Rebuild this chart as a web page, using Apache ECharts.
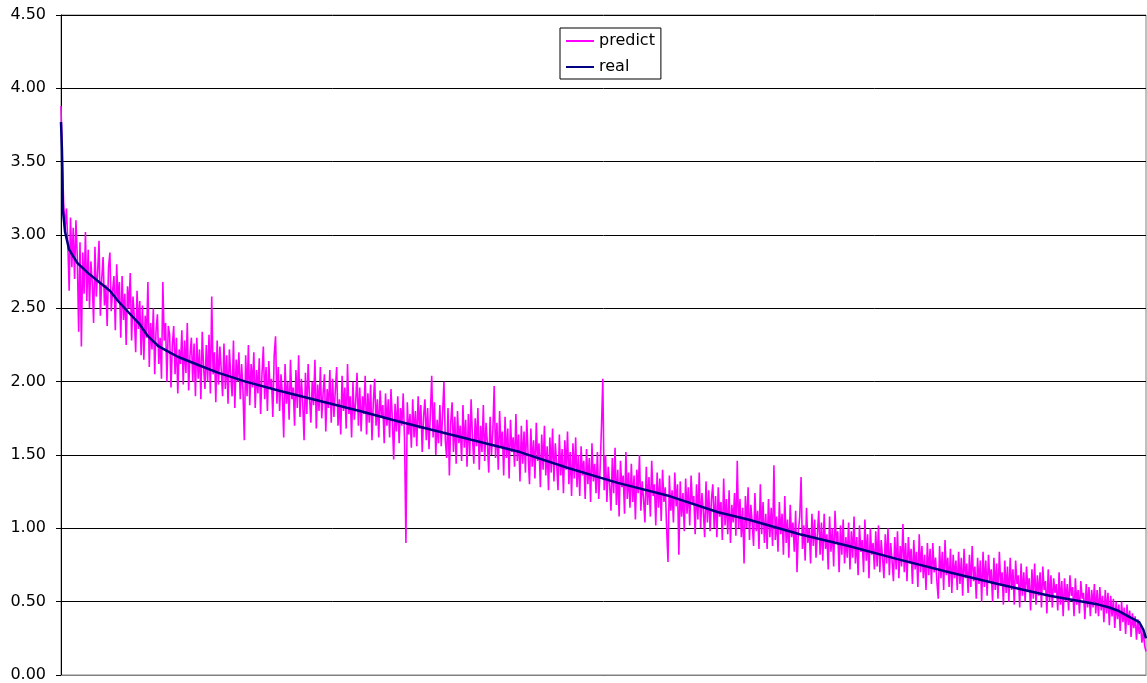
<!DOCTYPE html>
<html><head><meta charset="utf-8">
<script src="https://cdn.jsdelivr.net/npm/echarts@6/dist/echarts.min.js"></script>
<style>html,body{margin:0;padding:0;background:#fff}#c{width:1147px;height:683px}</style>
</head><body><div id="c"></div>
<script>
const yTicks = [0, 0.5, 1, 1.5, 2, 2.5, 3, 3.5, 4, 4.5];
const predict = [
3.88,3.52,3.20,3.05,3.18,2.95,2.62,3.12,2.78,3.05,2.70,3.10,2.85,2.34,2.95,2.24,2.88,2.60,3.02,2.55,
2.90,2.50,2.82,2.68,2.40,2.92,2.58,2.75,2.96,2.45,2.70,2.85,2.52,2.66,2.38,2.78,2.88,2.48,2.62,2.72,
2.35,2.80,2.55,2.68,2.30,2.72,2.42,2.60,2.25,2.65,2.50,2.74,2.28,2.58,2.44,2.20,2.62,2.36,2.55,2.18,
2.52,2.15,2.45,2.30,2.68,2.10,2.40,2.22,2.50,2.05,2.35,2.46,2.12,2.30,2.02,2.68,2.28,2.40,2.00,2.38,
2.32,1.96,2.25,2.38,2.05,2.30,1.92,2.22,2.12,2.35,1.98,2.28,2.06,2.40,1.94,2.18,2.30,2.00,2.26,1.90,
2.30,2.02,2.22,1.88,2.34,2.10,1.95,2.25,2.00,2.32,1.92,2.58,2.05,2.20,1.86,2.28,1.98,2.24,2.08,1.90,
2.26,1.95,2.18,1.85,2.22,2.04,1.90,2.28,1.82,2.15,2.00,2.20,1.88,2.12,1.94,1.60,2.18,1.90,2.25,1.84,
2.12,1.96,2.20,1.82,2.08,1.92,2.16,1.78,2.05,2.24,1.88,2.10,1.80,2.14,1.95,2.02,1.76,2.18,2.31,1.85,
2.10,1.80,2.05,1.92,1.62,2.12,1.85,2.00,1.74,2.15,1.88,1.96,1.70,2.08,1.82,2.18,1.76,2.02,1.86,1.60,
2.06,1.78,2.12,1.90,1.72,2.00,1.84,2.15,1.68,1.98,1.80,2.10,1.75,1.92,2.05,1.66,1.95,1.82,2.08,1.72,
2.02,1.76,1.94,2.10,1.70,1.88,1.64,2.04,1.80,1.96,1.68,2.12,1.78,1.90,1.62,2.00,1.74,1.86,2.06,1.70,
1.96,1.66,1.90,1.78,2.04,1.64,1.92,1.72,1.98,1.60,1.86,2.02,1.70,1.88,1.62,1.94,1.76,1.84,1.58,1.92,
1.70,1.88,1.62,1.95,1.74,1.47,1.85,1.66,1.90,1.58,1.82,1.70,1.92,1.60,0.90,1.86,1.64,1.78,1.55,1.88,
1.62,1.80,1.56,1.90,1.68,1.84,1.52,1.76,1.88,1.60,1.82,1.54,1.78,2.04,1.62,1.86,1.50,1.74,1.58,1.84,
1.56,1.78,2.00,1.60,1.48,1.82,1.36,1.72,1.86,1.52,1.76,1.44,1.80,1.58,1.70,1.46,1.84,1.55,1.74,1.42,
1.78,1.50,1.88,1.62,1.44,1.75,1.56,1.82,1.40,1.70,1.52,1.84,1.46,1.72,1.58,1.38,1.76,1.50,1.66,1.97,
1.48,1.72,1.40,1.80,1.55,1.66,1.36,1.76,1.48,1.68,1.34,1.74,1.52,1.62,1.42,1.78,1.46,1.64,1.32,1.70,
1.44,1.66,1.38,1.74,1.50,1.30,1.68,1.42,1.60,1.34,1.72,1.46,1.58,1.28,1.64,1.40,1.70,1.36,1.56,1.26,
1.62,1.38,1.68,1.32,1.58,1.44,1.26,1.64,1.36,1.54,1.24,1.60,1.40,1.66,1.30,1.52,1.22,1.58,1.34,1.62,
1.28,1.50,1.22,1.56,1.36,1.46,1.20,1.54,1.30,1.48,1.18,1.58,1.32,1.44,1.24,1.52,1.20,1.40,1.69,2.02,
1.26,1.50,1.18,1.42,1.30,1.12,1.48,1.24,1.55,1.16,1.40,1.08,1.46,1.28,1.36,1.10,1.52,1.20,1.38,1.14,
1.44,1.18,1.36,1.06,1.40,1.24,1.50,1.12,1.32,1.20,1.04,1.42,1.16,1.35,1.08,1.46,1.22,1.30,1.02,1.38,
1.14,1.34,1.05,1.40,1.18,1.28,1.00,0.77,1.36,1.12,1.26,1.04,1.38,1.15,1.30,0.82,1.32,1.08,1.24,0.98,
1.34,1.10,1.28,1.02,1.36,1.16,1.22,0.96,1.30,1.06,1.38,1.00,1.24,1.12,0.94,1.32,1.04,1.26,0.98,1.20,
1.30,1.00,1.22,0.94,1.28,1.08,1.18,0.92,1.34,1.02,1.20,0.96,1.26,0.90,1.16,1.04,1.24,0.95,1.46,1.00,
1.20,0.94,1.14,0.76,1.22,1.00,1.28,0.92,1.16,1.04,0.88,1.24,0.98,1.12,0.86,1.30,0.96,1.18,0.90,1.10,
0.86,1.20,0.94,1.14,0.88,1.43,0.92,1.08,0.84,1.18,0.96,1.10,0.82,1.22,0.90,1.06,0.80,1.16,0.94,1.04,
0.84,1.12,0.70,0.98,1.08,1.35,0.86,1.02,0.78,1.14,0.90,1.00,0.76,1.10,0.88,1.06,0.80,0.96,1.12,0.82,
1.04,0.78,1.10,0.86,0.96,0.72,1.08,0.84,1.00,0.74,1.12,0.90,0.98,0.70,1.02,0.82,1.06,0.76,0.94,0.80,
1.04,0.72,0.98,0.80,1.08,0.76,0.94,0.68,1.02,0.84,0.92,0.70,1.06,0.78,0.96,0.66,1.00,0.82,0.90,0.72,
0.98,0.74,1.02,0.70,0.92,0.80,0.66,0.96,0.76,1.00,0.68,0.90,0.78,0.64,0.94,0.72,0.98,0.66,0.88,0.74,
1.03,0.70,0.90,0.64,0.94,0.76,0.86,0.62,0.92,0.72,0.84,0.60,0.96,0.70,0.88,0.66,0.82,0.58,0.90,0.68,
0.86,0.62,0.90,0.70,0.80,0.64,0.52,0.88,0.66,0.84,0.58,0.92,0.68,0.80,0.60,0.86,0.56,0.82,0.66,0.78,
0.58,0.84,0.62,0.80,0.54,0.86,0.66,0.76,0.56,0.82,0.60,0.88,0.64,0.74,0.52,0.80,0.62,0.78,0.50,0.84,
0.60,0.78,0.54,0.82,0.64,0.72,0.50,0.80,0.58,0.76,0.52,0.84,0.62,0.70,0.48,0.78,0.56,0.74,0.50,0.80,
0.58,0.72,0.48,0.78,0.62,0.68,0.46,0.76,0.54,0.70,0.50,0.74,0.58,0.66,0.44,0.72,0.52,0.76,0.48,0.68,
0.54,0.70,0.46,0.74,0.58,0.64,0.42,0.72,0.50,0.68,0.46,0.66,0.56,0.62,0.44,0.70,0.48,0.64,0.40,0.66,
0.50,0.62,0.44,0.68,0.54,0.60,0.40,0.66,0.48,0.58,0.42,0.64,0.52,0.56,0.38,0.62,0.46,0.60,0.40,0.58,
0.46,0.62,0.42,0.58,0.40,0.60,0.44,0.54,0.36,0.58,0.42,0.56,0.34,0.54,0.40,0.52,0.32,0.50,0.38,0.48,
0.30,0.50,0.36,0.46,0.28,0.48,0.34,0.44,0.26,0.42,0.32,0.40,0.24,0.38,0.28,0.34,0.22,0.30,0.20,0.16
];
const realIdx = [0,0.7,1.4,3,6,12,20,28,36,42,50,58,64,72,80,86,102,116,136,160,190,220,248,278,308,338,374,410,448,484,506,544,580,616,654,690,728,764,772,778,786,794,797,799];
const realVal = [3.77,3.58,3.17,3.02,2.90,2.81,2.74,2.68,2.62,2.55,2.47,2.39,2.31,2.24,2.20,2.17,2.11,2.06,2.00,1.94,1.87,1.80,1.73,1.66,1.59,1.52,1.41,1.31,1.22,1.11,1.06,0.96,0.88,0.79,0.70,0.62,0.54,0.48,0.46,0.44,0.40,0.36,0.31,0.25];

const font = '"DejaVu Sans", "Liberation Sans", Arial, sans-serif';
const chart = echarts.init(document.getElementById('c'), null, {renderer: 'canvas'});
chart.setOption({
  animation: false,
  backgroundColor: '#fff',
  grid: {left: 61, right: 1, top: 15, bottom: 7, show: true, borderColor: '#808080', borderWidth: 1},
  legend: {
    orient: 'vertical', left: 560, top: 28,
    backgroundColor: '#fff', borderColor: '#000', borderWidth: 1,
    padding: [3, 6, 2, 6], itemGap: 6, itemWidth: 28, itemHeight: 2, icon: 'rect',
    textStyle: {fontFamily: font, fontSize: 16, color: '#000', lineHeight: 20},
    data: ['predict', 'real']
  },
  xAxis: {
    type: 'value', min: 0, max: predict.length - 1,
    axisLine: {show: true, lineStyle: {color: '#808080', width: 1}},
    axisTick: {show: false}, axisLabel: {show: false}, splitLine: {show: false}
  },
  yAxis: {
    type: 'value', min: yTicks[0], max: yTicks[yTicks.length - 1], interval: 0.5,
    axisLine: {show: true, lineStyle: {color: '#000', width: 1}},
    axisTick: {show: true, length: 5, lineStyle: {color: '#000'}},
    axisLabel: {margin: 15, fontFamily: font, fontSize: 16, color: '#000', formatter: v => v.toFixed(2)},
    splitLine: {show: true, lineStyle: {color: '#000', width: 1}}
  },
  series: [
    {name: 'predict', type: 'line', showSymbol: false, symbol: 'none',
     lineStyle: {color: '#FF00FF', width: 1.6}, itemStyle: {color: '#FF00FF'},
     data: predict.map((v, i) => [i, v]), z: 2},
    {name: 'real', type: 'line', showSymbol: false, symbol: 'none',
     lineStyle: {color: '#000080', width: 2.5}, itemStyle: {color: '#000080'},
     data: realIdx.map((x, i) => [x, realVal[i]]), z: 3}
  ]
});
</script></body></html>
